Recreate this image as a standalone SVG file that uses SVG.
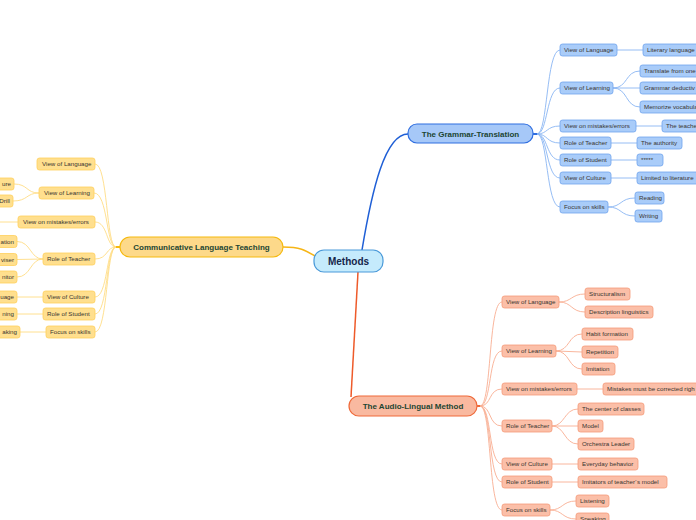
<svg xmlns="http://www.w3.org/2000/svg" width="696" height="520" viewBox="0 0 696 520">
<style>
text{font-family:"Liberation Sans",Arial,sans-serif}
.t{font-size:6.2px;fill:#3a3530}
.tm{font-size:8px;font-weight:bold;fill:#1c4532;text-anchor:middle}
.gt rect{fill:#a9ccf9;stroke:#6fa3ee;stroke-width:0.8}
.cl rect{fill:#ffdf8e;stroke:#ffcf5c;stroke-width:0.8}
.al rect{fill:#fbbfa8;stroke:#f59a78;stroke-width:0.8}
.cg{fill:none;stroke:#8ab6f3;stroke-width:0.9}
.cc{fill:none;stroke:#ffdc85;stroke-width:0.9}
.ca{fill:none;stroke:#f8ae92;stroke-width:0.9}
.e{text-anchor:end}
</style>
<rect width="696" height="520" fill="#ffffff"/>
<g id="connectors">
<path d="M362,250 C372,190 385,134 408,134" fill="none" stroke="#1f5fd6" stroke-width="1.5"/>
<path d="M283,247 C300,247 305,250 315,256" fill="none" stroke="#f6b516" stroke-width="1.5"/>
<path d="M358,272 C355,330 352,380 351,397" fill="none" stroke="#ee5a2a" stroke-width="1.5"/>
<path d="M533,134 L539,134" stroke="#2f6ee0" stroke-width="2"/>
<path d="M120,247 L114,247" stroke="#f5b90f" stroke-width="2"/>
<path d="M477,406 L482,406" stroke="#ef6a3a" stroke-width="2"/>
<g class="cg">
<path d="M537,134 C548,134 546,50 560,50"/>
<path d="M537,134 C548,134 546,88 560,88"/>
<path d="M537,134 C548,134 546,126 560,126"/>
<path d="M537,134 C548,134 546,143 560,143"/>
<path d="M537,134 C548,134 546,160 560,160"/>
<path d="M537,134 C548,134 546,178 560,178"/>
<path d="M537,134 C548,134 546,207 560,207"/>
<path d="M617,50 L643,50"/>
<path d="M613,88 C628,88 625,71 640,71"/>
<path d="M613,88 L640,88"/>
<path d="M613,88 C628,88 625,107 640,107"/>
<path d="M636,126 L662,126"/>
<path d="M611,143 L637,143"/>
<path d="M611,160 L637,160"/>
<path d="M611,178 L637,178"/>
<path d="M608,207 C622,207 620,198 635,198"/>
<path d="M608,207 C622,207 620,216 635,216"/>
</g>
<g class="cc">
<path d="M116,247 C106,247 108,164 95,164"/>
<path d="M116,247 C106,247 108,193 94,193"/>
<path d="M116,247 C106,247 108,222 95,222"/>
<path d="M116,247 C106,247 108,259 95,259"/>
<path d="M116,247 C106,247 108,297 95,297"/>
<path d="M116,247 C106,247 108,314 95,314"/>
<path d="M116,247 C106,247 108,332 95,332"/>
<path d="M39,193 C26,193 28,184 14,184"/>
<path d="M39,193 C26,193 28,201 13,201"/>
<path d="M18,222 L0,222"/>
<path d="M43,259 C30,259 31,241.5 17,241.5"/>
<path d="M43,259 L17,259.5"/>
<path d="M43,259 C30,259 31,277 17,277"/>
<path d="M43,297 L17,297"/>
<path d="M43,314 L17,314"/>
<path d="M46,332 L20,332"/>
</g>
<g class="ca">
<path d="M480,406 C492,406 488,302 502,302"/>
<path d="M480,406 C492,406 488,351 502,351"/>
<path d="M480,406 C492,406 488,389 502,389"/>
<path d="M480,406 C492,406 488,426 502,426"/>
<path d="M480,406 C492,406 488,464 502,464"/>
<path d="M480,406 C492,406 488,482 502,482"/>
<path d="M480,406 C492,406 488,510 502,510"/>
<path d="M559,302 C572,302 571,294 585,294"/>
<path d="M559,302 C572,302 571,312 585,312"/>
<path d="M556,351 C570,351 568,334 582,334"/>
<path d="M556,351 L582,352"/>
<path d="M556,351 C570,351 568,369 582,369"/>
<path d="M577,389 L603,389"/>
<path d="M552,426 C565,426 564,409 578,409"/>
<path d="M552,426 L578,426"/>
<path d="M552,426 C565,426 564,444 578,444"/>
<path d="M552,464 L578,464"/>
<path d="M552,482 L578,482"/>
<path d="M550,510 C563,510 562,501 576,501"/>
<path d="M550,510 C563,510 562,519 576,519"/>
</g>
</g>
<g id="methods"><rect x="314" y="250" width="69" height="22" rx="10" fill="#c5ebfc" stroke="#4a9ad9" stroke-width="1.2"/><text x="348.5" y="264.5" font-size="10" font-weight="bold" fill="#15254a" text-anchor="middle">Methods</text></g>
<g id="gt"><rect x="408" y="124" width="125" height="19" rx="9" fill="#a6c8f8" stroke="#2f6ee0" stroke-width="1.2"/><text class="tm" x="470.5" y="136.5">The Grammar-Translation</text></g>
<g id="clt"><rect x="120" y="237" width="163" height="20" rx="10" fill="#fdd98a" stroke="#f5b90f" stroke-width="1.2"/><text class="tm" x="201.5" y="250">Communicative Language Teaching</text></g>
<g id="al"><rect x="349" y="396" width="128" height="20" rx="10" fill="#f9b9a0" stroke="#ef6a3a" stroke-width="1.2"/><text class="tm" x="413" y="409">The Audio-Lingual Method</text></g>

<g class="gt">
<g id="gt-vol"><rect x="560" y="44" width="57" height="12" rx="2.5"/><text class="t" x="564" y="52.2">View of Language</text></g>
<g id="gt-vol-1"><rect x="643" y="44" width="60" height="12" rx="2.5"/><text class="t" x="647" y="52.2">Literary language</text></g>
<g id="gt-vle"><rect x="560" y="82" width="53" height="12" rx="2.5"/><text class="t" x="564" y="90.2">View of Learning</text></g>
<g id="gt-vle-1"><rect x="640" y="65" width="62" height="12" rx="2.5"/><text class="t" x="644" y="73.2">Translate from one</text></g>
<g id="gt-vle-2"><rect x="640" y="82" width="62" height="12" rx="2.5"/><text class="t" x="644" y="90.2">Grammar deductiv</text></g>
<g id="gt-vle-3"><rect x="640" y="101" width="62" height="12" rx="2.5"/><text class="t" x="644" y="109.2">Memorize vocabula</text></g>
<g id="gt-vom"><rect x="560" y="120" width="76" height="12" rx="2.5"/><text class="t" x="564" y="128.2">View on mistakes/errors</text></g>
<g id="gt-vom-1"><rect x="662" y="120" width="40" height="12" rx="2.5"/><text class="t" x="666" y="128.2">The teache</text></g>
<g id="gt-rot"><rect x="560" y="137" width="51" height="12" rx="2.5"/><text class="t" x="564" y="145.2">Role of Teacher</text></g>
<g id="gt-rot-1"><rect x="637" y="137" width="45" height="12" rx="2.5"/><text class="t" x="641" y="145.2">The authority</text></g>
<g id="gt-ros"><rect x="560" y="154" width="51" height="12" rx="2.5"/><text class="t" x="564" y="162.2">Role of Student</text></g>
<g id="gt-ros-1"><rect x="637" y="154" width="26" height="12" rx="2.5"/><text class="t" x="641" y="162.2">*****</text></g>
<g id="gt-voc"><rect x="560" y="172" width="51" height="12" rx="2.5"/><text class="t" x="564" y="180.2">View of Culture</text></g>
<g id="gt-voc-1"><rect x="637" y="172" width="66" height="12" rx="2.5"/><text class="t" x="641" y="180.2">Limited to literature</text></g>
<g id="gt-fos"><rect x="560" y="201" width="48" height="12" rx="2.5"/><text class="t" x="564" y="209.2">Focus on skills</text></g>
<g id="gt-fos-1"><rect x="635" y="192" width="29" height="12" rx="2.5"/><text class="t" x="639" y="200.2">Reading</text></g>
<g id="gt-fos-2"><rect x="635" y="210" width="27" height="12" rx="2.5"/><text class="t" x="639" y="218.2">Writing</text></g>
</g>

<g class="cl">
<g id="cl-vol"><rect x="37" y="158" width="58" height="12" rx="2.5"/><text class="t" x="42" y="166.2">View of Language</text></g>
<g id="cl-vle"><rect x="39" y="187" width="55" height="12" rx="2.5"/><text class="t" x="44" y="195.2">View of Learning</text></g>
<g id="cl-vle-1"><rect x="-30" y="178" width="44" height="12" rx="2.5"/><text class="t e" x="11" y="186.2">ure</text></g>
<g id="cl-vle-2"><rect x="-30" y="195" width="43" height="12" rx="2.5"/><text class="t e" x="10" y="203.2">Drill</text></g>
<g id="cl-vom"><rect x="18" y="216" width="77" height="12" rx="2.5"/><text class="t" x="23" y="224.2">View on mistakes/errors</text></g>
<g id="cl-rot"><rect x="43" y="253" width="52" height="12" rx="2.5"/><text class="t" x="47" y="261.2">Role of Teacher</text></g>
<g id="cl-rot-1"><rect x="-30" y="235.5" width="47" height="12" rx="2.5"/><text class="t e" x="14" y="243.7">ation</text></g>
<g id="cl-rot-2"><rect x="-30" y="253.5" width="47" height="12" rx="2.5"/><text class="t e" x="14" y="261.7">viser</text></g>
<g id="cl-rot-3"><rect x="-30" y="271" width="47" height="12" rx="2.5"/><text class="t e" x="14" y="279.2">nitor</text></g>
<g id="cl-voc"><rect x="43" y="291" width="52" height="12" rx="2.5"/><text class="t" x="47" y="299.2">View of Culture</text></g>
<g id="cl-voc-1"><rect x="-30" y="291" width="47" height="12" rx="2.5"/><text class="t e" x="14" y="299.2">uage</text></g>
<g id="cl-ros"><rect x="43" y="308" width="52" height="12" rx="2.5"/><text class="t" x="47" y="316.2">Role of Student</text></g>
<g id="cl-ros-1"><rect x="-30" y="308" width="47" height="12" rx="2.5"/><text class="t e" x="14" y="316.2">ning</text></g>
<g id="cl-fos"><rect x="46" y="326" width="49" height="12" rx="2.5"/><text class="t" x="50" y="334.2">Focus on skills</text></g>
<g id="cl-fos-1"><rect x="-30" y="326" width="50" height="12" rx="2.5"/><text class="t e" x="17" y="334.2">aking</text></g>
</g>

<g class="al">
<g id="al-vol"><rect x="502" y="296" width="57" height="12" rx="2.5"/><text class="t" x="506" y="304.2">View of Language</text></g>
<g id="al-vol-1"><rect x="585" y="288" width="45" height="12" rx="2.5"/><text class="t" x="589" y="296.2">Structuralism</text></g>
<g id="al-vol-2"><rect x="585" y="306" width="68" height="12" rx="2.5"/><text class="t" x="589" y="314.2">Description linguistics</text></g>
<g id="al-vle"><rect x="502" y="345" width="54" height="12" rx="2.5"/><text class="t" x="506" y="353.2">View of Learning</text></g>
<g id="al-vle-1"><rect x="582" y="328" width="51" height="12" rx="2.5"/><text class="t" x="586" y="336.2">Habit formation</text></g>
<g id="al-vle-2"><rect x="582" y="346" width="36" height="12" rx="2.5"/><text class="t" x="586" y="354.2">Repetition</text></g>
<g id="al-vle-3"><rect x="582" y="363" width="33" height="12" rx="2.5"/><text class="t" x="586" y="371.2">Imitation</text></g>
<g id="al-vom"><rect x="502" y="383" width="75" height="12" rx="2.5"/><text class="t" x="506" y="391.2">View on mistakes/errors</text></g>
<g id="al-vom-1"><rect x="603" y="383" width="100" height="12" rx="2.5"/><text class="t" x="607" y="391.2">Mistakes must be corrected righ</text></g>
<g id="al-rot"><rect x="502" y="420" width="50" height="12" rx="2.5"/><text class="t" x="506" y="428.2">Role of Teacher</text></g>
<g id="al-rot-1"><rect x="578" y="403" width="66" height="12" rx="2.5"/><text class="t" x="582" y="411.2">The center of classes</text></g>
<g id="al-rot-2"><rect x="578" y="420" width="25" height="12" rx="2.5"/><text class="t" x="582" y="428.2">Model</text></g>
<g id="al-rot-3"><rect x="578" y="438" width="56" height="12" rx="2.5"/><text class="t" x="582" y="446.2">Orchestra Leader</text></g>
<g id="al-voc"><rect x="502" y="458" width="50" height="12" rx="2.5"/><text class="t" x="506" y="466.2">View of Culture</text></g>
<g id="al-voc-1"><rect x="578" y="458" width="60" height="12" rx="2.5"/><text class="t" x="582" y="466.2">Everyday behavior</text></g>
<g id="al-ros"><rect x="502" y="476" width="50" height="12" rx="2.5"/><text class="t" x="506" y="484.2">Role of Student</text></g>
<g id="al-ros-1"><rect x="578" y="476" width="89" height="12" rx="2.5"/><text class="t" x="582" y="484.2">Imitators of teacher´s model</text></g>
<g id="al-fos"><rect x="502" y="504" width="48" height="12" rx="2.5"/><text class="t" x="506" y="512.2">Focus on skills</text></g>
<g id="al-fos-1"><rect x="576" y="495" width="33" height="12" rx="2.5"/><text class="t" x="580" y="503.2">Listening</text></g>
<g id="al-fos-2"><rect x="576" y="513" width="33" height="12" rx="2.5"/><text class="t" x="580" y="521.2">Speaking</text></g>
</g>
</svg>
